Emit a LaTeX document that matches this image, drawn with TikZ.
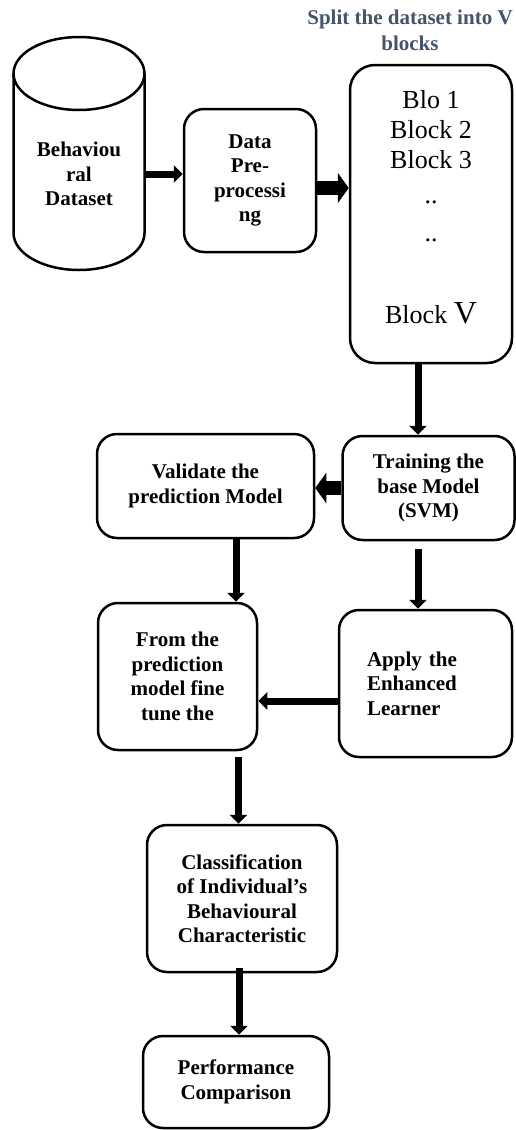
\documentclass[tikz,border=0pt]{standalone}
\usepackage{fontspec}
\setmainfont{Liberation Serif}
\usetikzlibrary{positioning, arrows.meta}
\definecolor{TitleSlate}{RGB}{68, 84, 106}

\begin{document}
\begin{tikzpicture}[x=1pt, y=-1pt,
    box/.style={draw, line width=2.5pt, rounded corners=20pt, align=center,
      font=\bfseries\fontsize{21}{24.5}\selectfont, inner sep=0pt},
    flow/.style={line width=7pt, -{Triangle[width=17pt, length=9pt]}},
    bigflow/.style={line width=14pt, -{Triangle[width=30pt, length=11pt]}}]
    \useasboundingbox (0,0) rectangle (516,1130);

    % Dataset cylinder
    \draw[line width=2.5pt] (79,73.5) ellipse[x radius=65.5, y radius=36.5];
    \draw[line width=2.5pt] (13.5,73.5) -- (13.5,233)
      arc[start angle=180, end angle=0, x radius=65.5, y radius=37] -- (144.5,73.5);
    \node[align=center, font=\bfseries\fontsize{21}{24.5}\selectfont,
      minimum width=131pt, inner sep=0pt] (dataset) at (79,174) {Behaviou\\ral\\Dataset};

    % Top row
    \node[box, minimum width=132pt, minimum height=143pt] (prep) at (250,180.5)
      {Data\\Pre-\\processi\\ng};
    \node[box, rounded corners=25pt, minimum width=162pt, minimum height=298pt] (blocks) at (431,214) {};
    \node[align=center, anchor=north, inner sep=0pt, font=\fontsize{26}{30}\selectfont] (blocklist) at (431,90)
      {Blo 1\\Block 2\\Block 3\\[5pt]..\\[8pt]..\\[52pt]Block {\fontsize{32}{30}\selectfont V}};
    \node[align=center, text=TitleSlate, font=\bfseries\fontsize{21}{26}\selectfont] (title) at (410,30)
      {Split the dataset into V\\blocks};

    % Model boxes
    \node[box, minimum width=172pt, minimum height=104pt] (train) at (428.5,488)
      {Training the\\base Model\\(SVM)};
    \node[box, minimum width=217pt, minimum height=104pt] (validate) at (205.5,486)
      {Validate the\\prediction Model};
    \node[box, minimum width=159pt, minimum height=147pt] (finetune) at (177.5,676.5)
      {From the\\prediction\\model fine\\tune the};
    \node[box, align=left, text width=117pt, minimum width=173pt, minimum height=147pt] (apply) at (425.5,683.5)
      {Apply the\\Enhanced\\Learner};

    % Final steps
    \node[box, minimum width=190pt, minimum height=147pt] (classify) at (242,898.5)
      {Classification\\of Individual’s\\Behavioural\\Characteristic};
    \node[box, minimum width=186pt, minimum height=92pt] (perf) at (236,1082)
      {Performance\\Comparison};

    % Arrows
    \draw[flow] (dataset.east) -- (dataset.east -| prep.west);
    \draw[bigflow] ([yshift=-7.5pt]prep.east) -- ([yshift=-7.5pt]prep.east -| blocks.west);
    \draw[flow] ([xshift=-13pt]blocks.south) -- ([xshift=-13pt]blocks.south |- train.north);
    \draw[bigflow] (train.west) -- (train.west -| validate.east);
    \draw[flow] ([xshift=30.5pt]validate.south) -- ([xshift=30.5pt]validate.south |- finetune.north);
    \draw[flow] ([xshift=-10.5pt,yshift=-8pt]train.south) -- ([xshift=-10.5pt]train.south |- apply.north);
    \draw[flow] ([yshift=-17.5pt]apply.west) -- ([yshift=-17.5pt]apply.west -| finetune.east);
    \draw[flow] ([xshift=61pt,yshift=-6pt]finetune.south) -- ([xshift=61pt]finetune.south |- classify.north);
    \draw[flow] ([xshift=-3pt,yshift=5pt]classify.south) -- ([xshift=-3pt]classify.south |- perf.north);
  \end{tikzpicture}
\end{document}
